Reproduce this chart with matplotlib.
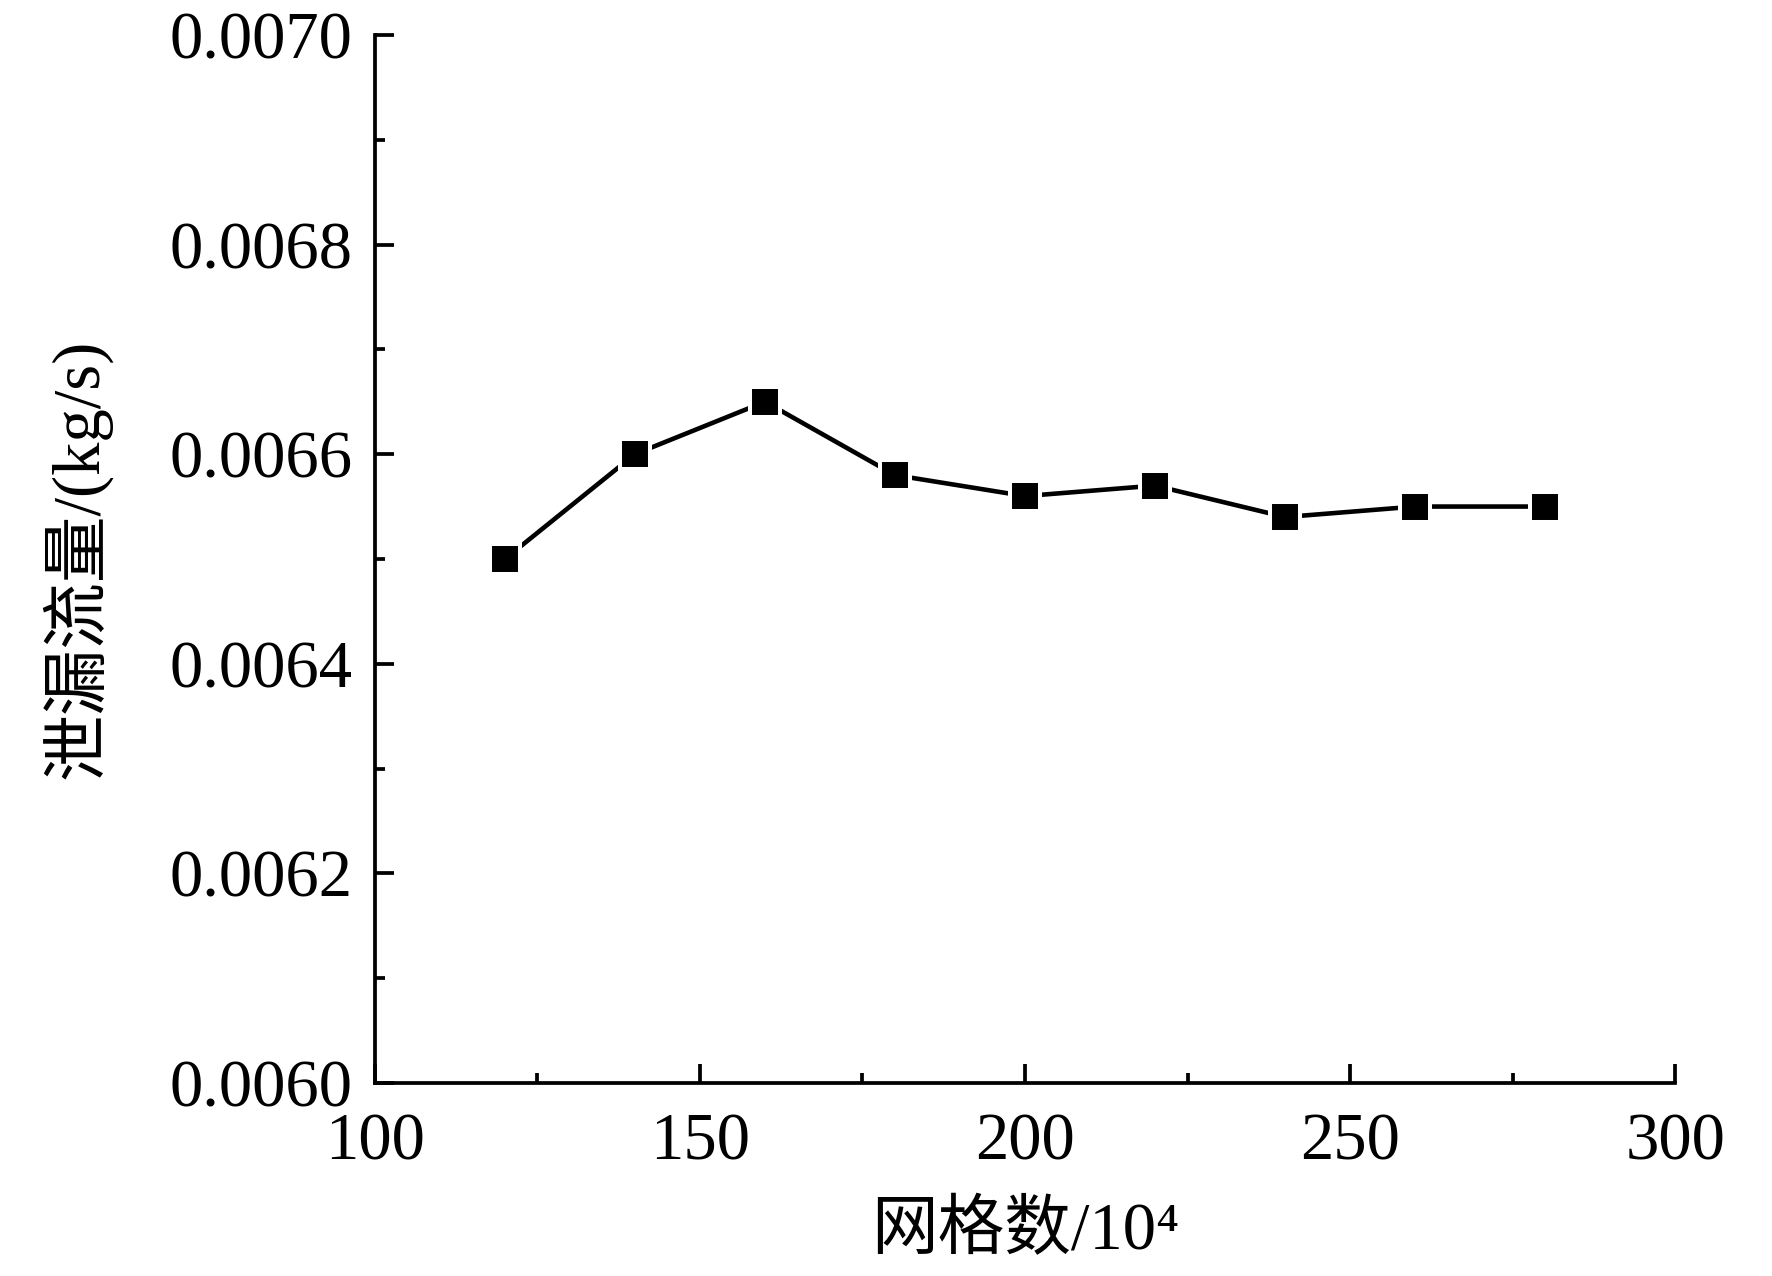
import matplotlib
matplotlib.use("Agg")
import matplotlib.pyplot as plt
from matplotlib.ticker import MultipleLocator

# 数据
grid_num = [120, 140, 160, 180, 200, 220, 240, 260, 280]
leak_flow = [0.00650, 0.00660, 0.00665, 0.00658, 0.00656, 0.00657, 0.00654, 0.00655, 0.00655]

fonts = ['Liberation Serif', 'Noto Sans CJK SC']
plt.rcParams['font.family'] = fonts

fig = plt.figure(figsize=(17.72, 12.76), dpi=100)
ax = fig.add_axes([0.2116, 0.1513, 0.7337, 0.8213])

ax.plot(grid_num, leak_flow, color='black', lw=3.3,
        marker='s', ms=21.5, mfc='black', mec='white', mew=2.9)

ax.set_xlim(100, 300)
ax.set_ylim(0.0060, 0.0070)
ax.xaxis.set_major_locator(MultipleLocator(50))
ax.xaxis.set_minor_locator(MultipleLocator(25))
ax.yaxis.set_major_locator(MultipleLocator(0.0002))
ax.yaxis.set_minor_locator(MultipleLocator(0.0001))
ax.yaxis.set_major_formatter(plt.FormatStrFormatter('%.4f'))

for s in ['top', 'right']:
    ax.spines[s].set_visible(False)
for s in ['left', 'bottom']:
    ax.spines[s].set_linewidth(2.7)

ax.tick_params(which='major', direction='in', length=14, width=2.7, labelsize=48)
ax.tick_params(axis='x', which='major', pad=21)
ax.tick_params(axis='y', which='major', pad=16)
ax.tick_params(which='minor', direction='in', length=7, width=2.7)

ax.set_xlabel('网格数/10⁴', fontsize=48, labelpad=20)
ax.set_ylabel('泄漏流量/(kg/s)', fontsize=48, labelpad=42)

fig.savefig('out.png', dpi=100)
